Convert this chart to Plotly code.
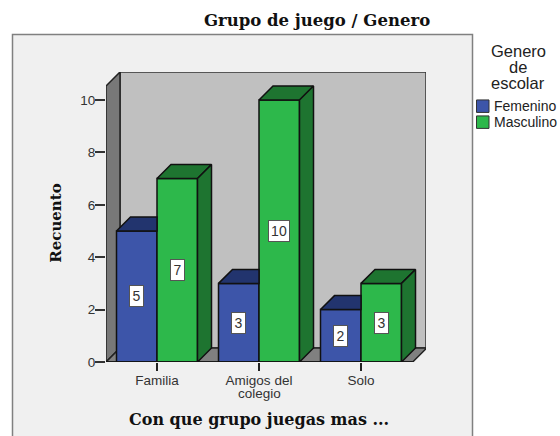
import plotly.graph_objects as go

categories = ["Familia", "Amigos del colegio", "Solo"]
femenino = [5, 3, 2]
masculino = [7, 10, 3]
y_ticks = [0, 2, 4, 6, 8, 10]
tick_lines = ["Familia", "Amigos del", "Solo"]
tick_second_line = "colegio"
series_names = ["Femenino", "Masculino"]
legend_title_lines = ["Genero", "de", "escolar"]
title_text = "Grupo de juego / Genero"
x_title = "Con que grupo juegas mas ..."
y_title = "Recuento"

W, H = 560, 436
L, R, T, B = 106, 426, 72, 362.5
PX_X = 102.0
PX_Y = 26.25
CX0 = 157.0
X_MIN = (L - CX0) / PX_X
X_MAX = (R - CX0) / PX_X
Y_MAX = (B - T) / PX_Y
BAR_W = 40.5 / PX_X
DX = 14 / PX_X
DY = 14 / PX_Y
X_FLOOR = (412.7 - CX0) / PX_X

BLUE, BLUE_TOP = "#3D55A9", "#22346E"
GREEN, GREEN_TOP, GREEN_SIDE = "#2DB84B", "#1E7430", "#1E7430"
EDGE = "#111111"
SANS = "Liberation Sans"
SERIF = "DejaVu Serif"


def px(v):
    return (v - L) / (R - L)


def py(v):
    return (B - v) / (B - T)


fig = go.Figure()
xs = list(range(len(categories)))
fig.add_trace(go.Bar(x=xs, y=femenino, name=series_names[0], offset=-BAR_W, width=BAR_W,
                     marker=dict(color=BLUE, line=dict(color=EDGE, width=1.5))))
fig.add_trace(go.Bar(x=xs, y=masculino, name=series_names[1], offset=0, width=BAR_W,
                     marker=dict(color=GREEN, line=dict(color=EDGE, width=1.5))))


def poly(xv, yv, color):
    fig.add_trace(go.Scatter(x=xv + xv[:1], y=yv + yv[:1], mode="lines", fill="toself",
                             fillcolor=color, line=dict(color=EDGE, width=1.5),
                             hoverinfo="skip", showlegend=False))


for i in xs:
    f, m = femenino[i], masculino[i]
    x0, x1, x2 = i - BAR_W, i, i + BAR_W
    poly([x0, x0 + DX, x1, x1], [f, f + DY, f + DY, f], BLUE_TOP)
    poly([x1, x1 + DX, x2 + DX, x2], [m, m + DY, m + DY, m], GREEN_TOP)
    poly([x2, x2 + DX, x2 + DX, x2], [0, DY, m + DY, m], GREEN_SIDE)

shapes = [
    dict(type="rect", xref="paper", yref="paper", x0=px(12.5), x1=px(472.5),
         y0=py(460), y1=py(34.5), fillcolor="#F0F0F0",
         line=dict(color="#808080", width=1.5), layer="below"),
    dict(type="rect", xref="x", yref="y", x0=X_MIN + DX, x1=X_MAX, y0=DY, y1=Y_MAX,
         fillcolor="#C0C0C0", line=dict(color="#333333", width=1.5), layer="below"),
    dict(type="path", xref="x", yref="y",
         path=f"M {X_MIN} 0 L {X_MIN} {Y_MAX - DY} L {X_MIN + DX} {Y_MAX} L {X_MIN + DX} {DY} Z",
         fillcolor="#787878", line=dict(color="#222222", width=1.5), layer="below"),
    dict(type="path", xref="x", yref="y",
         path=f"M {X_MIN} 0 L {X_FLOOR} 0 L {X_FLOOR + DX} {DY} L {X_MIN + DX} {DY} Z",
         fillcolor="#808080", line=dict(color="#222222", width=1.5), layer="below"),
    dict(type="line", xref="x", yref="y", x0=X_MIN, x1=X_FLOOR, y0=0, y1=0,
         line=dict(color="#111111", width=1.5)),
]

for (yy, col) in [(106, BLUE), (122, GREEN)]:
    shapes.append(dict(type="rect", xref="paper", yref="paper", x0=px(476.5), x1=px(489),
                       y0=py(yy + 6.5), y1=py(yy - 6), fillcolor=col,
                       line=dict(color="#333333", width=1)))

CM = dict(xanchor="center", yanchor="middle", showarrow=False)
ann = []
for i in xs:
    for off, v in ((-BAR_W / 2, femenino[i]), (BAR_W / 2, masculino[i])):
        ann.append(dict(x=i + off, y=v / 2, xref="x", yref="y", text=str(v), **CM,
                        font=dict(family=SANS, size=14, color="#333333"), bgcolor="white",
                        bordercolor="#555555", borderwidth=1, width=13 + (7 if v >= 10 else 0),
                        height=20, borderpad=0))

ann.append(dict(x=1, y=0, xref="x", yref="y", yshift=-31, text=tick_second_line, **CM,
                font=dict(family=SANS, size=13.5, color="#333333")))
ann.append(dict(x=px(258.5), y=py(420), xref="paper", yref="paper", text=f"<b>{x_title}</b>", **CM,
                font=dict(family=SERIF, size=16, color="#111111")))
ann.append(dict(x=px(56), y=py(224), xref="paper", yref="paper", text=f"<b>{y_title}</b>",
                textangle=-90, **CM, font=dict(family=SERIF, size=15, color="#111111")))
for line, yy in zip(legend_title_lines, (51, 67, 83)):
    ann.append(dict(x=px(518), y=py(yy), xref="paper", yref="paper", text=line, **CM,
                    font=dict(family=SANS, size=16.5, color="#222222")))
for name, yy in zip(series_names, (106, 122)):
    ann.append(dict(x=px(491.5), y=py(yy), xref="paper", yref="paper", xanchor="left", yanchor="middle",
                    text=name, showarrow=False, font=dict(family=SANS, size=14, color="#222222")))
ann.append(dict(x=px(317), y=py(20), xref="paper", yref="paper", text=f"<b>{title_text}</b>", **CM,
                font=dict(family=SERIF, size=16.5, color="#111111")))

fig.update_layout(
    width=W, height=H, autosize=False,
    margin=dict(l=L, r=W - R, t=T, b=H - B, pad=0),
    paper_bgcolor="white", plot_bgcolor="rgba(0,0,0,0)",
    showlegend=False, barmode="overlay",
    shapes=shapes, annotations=ann,
    xaxis=dict(range=[X_MIN, X_MAX], tickmode="array", tickvals=xs, ticktext=tick_lines,
               ticks="outside", ticklen=8, tickcolor="#222222", tickwidth=1.5,
               ticklabelstandoff=-2,
               showgrid=False, zeroline=False, showline=False,
               tickfont=dict(family=SANS, size=13.5, color="#333333")),
    yaxis=dict(range=[0, Y_MAX], tickmode="array", tickvals=y_ticks,
               ticks="outside", ticklen=10, tickcolor="#333333", tickwidth=1.5,
               ticklabelstandoff=-3,
               showgrid=False, zeroline=False, showline=False,
               tickfont=dict(family=SANS, size=13.5, color="#333333")),
)
fig.write_html("out.html", config={"displayModeBar": False},
               post_script="document.body.style.margin='0';")
